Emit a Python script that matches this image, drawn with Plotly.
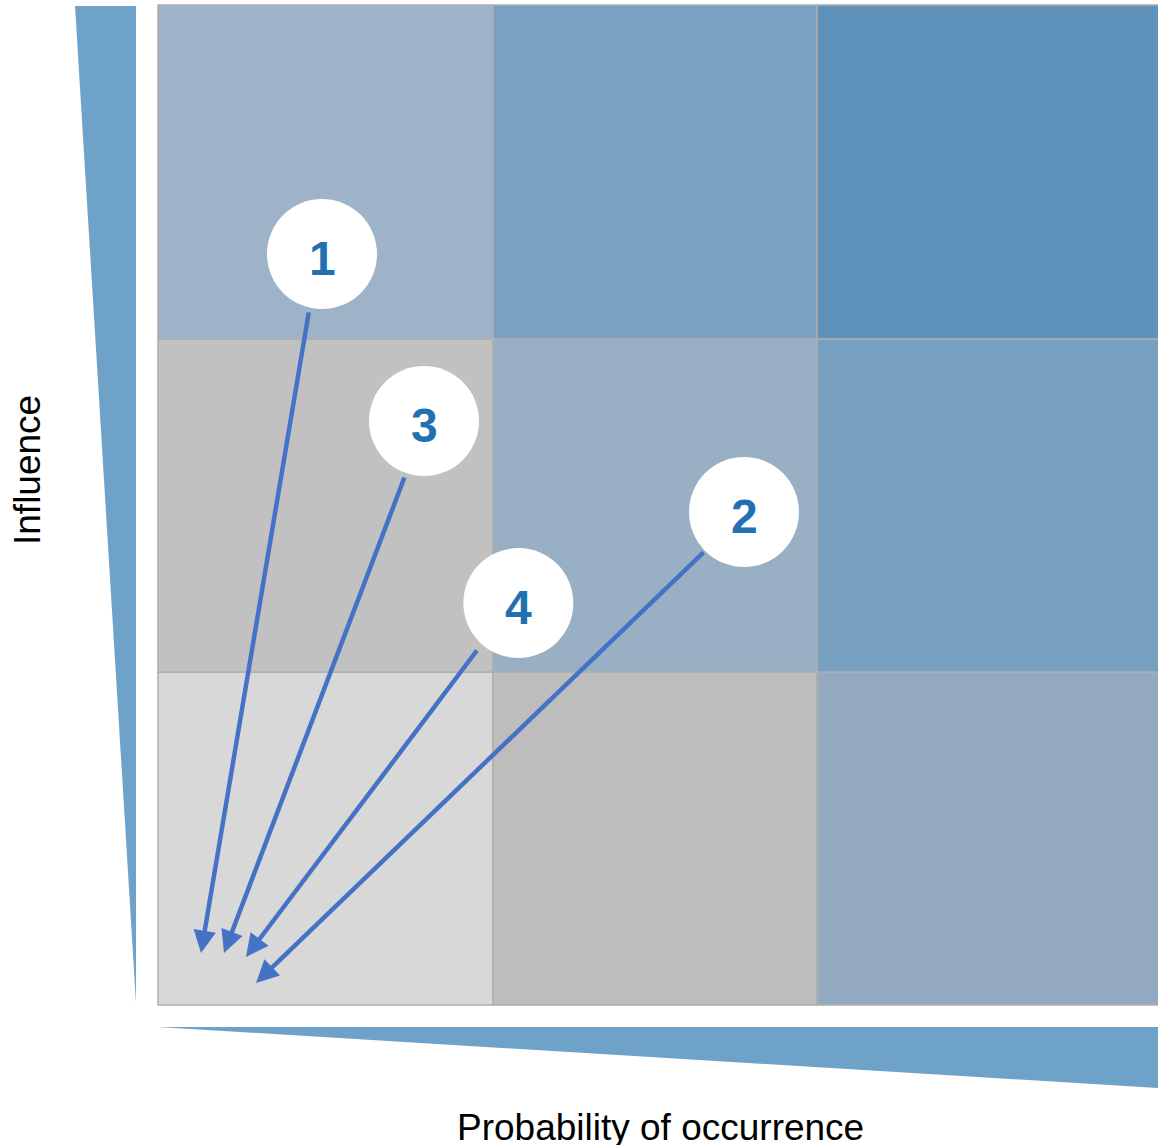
import plotly.graph_objects as go

# 3x3 matrix: columns = probability (low..high), rows = influence (low..high)
col_edges = [0.0, 1.005, 1.977, 3.05]
row_edges = [0.0, 0.999, 1.998, 3.0]
cell_colors = [
    ["#d8d8d8", "#bdbdbd", "#94aac0"],  # low influence
    ["#c1c1c1", "#99afc4", "#779fc0"],  # medium influence
    ["#9fb3c8", "#7aa1c2", "#5f92bb"],  # high influence
]

# numbered risks: circle centre, arrow start, arrow tip (grid units)
risk_labels = ["1", "3", "2", "4"]
risk_x = [0.492, 0.798, 1.758, 1.081]
risk_y = [2.253, 1.752, 1.479, 1.206]
tail_x = [0.453, 0.741, 1.641, 0.960]
tail_y = [2.082, 1.587, 1.362, 1.068]
tip_x = [0.129, 0.198, 0.294, 0.264]
tip_y = [0.156, 0.156, 0.066, 0.144]

# axis wedges
left_wedge_x = [-0.249, -0.066, -0.066]
left_wedge_y = [2.997, 2.997, 0.006]
bottom_wedge_x = [0.0, 3.0, 3.0]
bottom_wedge_y = [-0.066, -0.066, -0.249]

blue = "#6fa2c9"
font_family = "Liberation Sans, Arial, sans-serif"

fig = go.Figure()

shapes = []
for r, row in enumerate(cell_colors):
    for c, col in enumerate(row):
        shapes.append(dict(
            type="rect", xref="x", yref="y",
            x0=col_edges[c], x1=col_edges[c + 1],
            y0=row_edges[r], y1=row_edges[r + 1],
            fillcolor=col, line=dict(color="#aeaeae", width=1.5),
            layer="below",
        ))

fig.add_trace(go.Scatter(
    x=left_wedge_x, y=left_wedge_y, fill="toself", mode="lines",
    fillcolor=blue, line=dict(width=0, color=blue), hoverinfo="skip",
))
fig.add_trace(go.Scatter(
    x=bottom_wedge_x, y=bottom_wedge_y, fill="toself", mode="lines",
    fillcolor=blue, line=dict(width=0, color=blue), hoverinfo="skip",
))

annotations = []
for i in range(len(risk_labels)):
    annotations.append(dict(
        x=tip_x[i], y=tip_y[i], ax=tail_x[i], ay=tail_y[i],
        xref="x", yref="y", axref="x", ayref="y",
        text="", showarrow=True, arrowhead=2, arrowsize=1.0,
        arrowwidth=4.5, arrowcolor="#4472c4",
    ))

fig.add_trace(go.Scatter(
    x=risk_x, y=risk_y, mode="markers",
    marker=dict(size=110, color="white", line=dict(color="white", width=0)),
    hoverinfo="skip",
))

for i, lab in enumerate(risk_labels):
    annotations.append(dict(
        x=risk_x[i], y=risk_y[i], xref="x", yref="y", text=lab,
        showarrow=False, yshift=-4,
        font=dict(family=font_family, size=48, color="#2270b2", weight="bold"),
    ))

annotations.append(dict(
    x=-0.393, y=1.605, xref="x", yref="y", text="Influence",
    textangle=-90, showarrow=False,
    font=dict(family=font_family, size=37, color="black"),
))
annotations.append(dict(
    x=1.506, y=-0.368, xref="x", yref="y", text="Probability of occurrence",
    showarrow=False,
    font=dict(family=font_family, size=37, color="black"),
))

fig.update_layout(
    width=1158, height=1145,
    margin=dict(l=0, r=0, t=0, b=0),
    paper_bgcolor="white", plot_bgcolor="white",
    showlegend=False,
    shapes=shapes, annotations=annotations,
    xaxis=dict(range=[-0.474, 3.0], visible=False, fixedrange=True),
    yaxis=dict(range=[-0.42, 3.015], visible=False, fixedrange=True),
)

fig.write_html(
    "out.html",
    config={"displayModeBar": False},
    post_script="document.body.style.margin='0';document.body.style.overflow='hidden';",
)
